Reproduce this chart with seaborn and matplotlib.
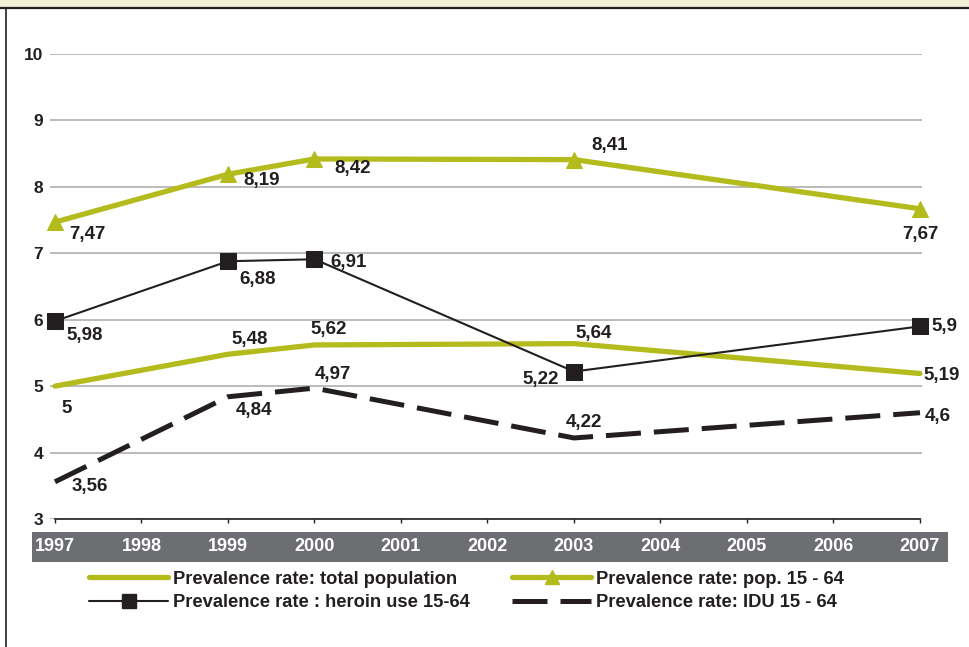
import numpy as np
import pandas as pd
import matplotlib
matplotlib.use("Agg")
import matplotlib.pyplot as plt
import seaborn as sns
from matplotlib.patches import Rectangle
from matplotlib.lines import Line2D

# dados
anos = [1997, 1999, 2000, 2003, 2007]
total_pop = [5.0, 5.48, 5.62, 5.64, 5.19]
pop_15_64 = [7.47, 8.19, 8.42, 8.41, 7.67]
heroina = [5.98, 6.88, 6.91, 5.22, 5.9]
idu = [3.56, 4.84, 4.97, 4.22, 4.6]
rotulos_total = ["5", "5,48", "5,62", "5,64", "5,19"]
rotulos_pop = ["7,47", "8,19", "8,42", "8,41", "7,67"]
rotulos_her = ["5,98", "6,88", "6,91", "5,22", "5,9"]
rotulos_idu = ["3,56", "4,84", "4,97", "4,22", "4,6"]
anos_eixo = list(range(1997, 2008))
y_ticks = [3, 4, 5, 6, 7, 8, 9, 10]

VERDE = "#b3bb1d"
PRETO = "#231f20"
CINZA = "#6d6e71"

sns.set_theme(style="white")
plt.rcParams["font.family"] = ["Liberation Sans", "DejaVu Sans"]
plt.rcParams["font.weight"] = "bold"

fig = plt.figure(figsize=(9.7, 6.47), dpi=100)
fig.patch.set_facecolor("white")
ax = fig.add_axes([50 / 970, 1 - 519 / 647, 872 / 970, 465 / 647])

df = pd.DataFrame({"Ano": anos, "total": total_pop, "pop": pop_15_64,
                   "her": heroina, "idu": idu})

sns.lineplot(data=df, x="Ano", y="total", ax=ax, color=VERDE, lw=3.8, zorder=3)
sns.lineplot(data=df, x="Ano", y="pop", ax=ax, color=VERDE, lw=3.8, marker="^",
             markersize=12, markeredgecolor=VERDE, zorder=4)
sns.lineplot(data=df, x="Ano", y="her", ax=ax, color=PRETO, lw=1.5, marker="s",
             markersize=11, markeredgecolor=PRETO, zorder=4)
sns.lineplot(data=df, x="Ano", y="idu", ax=ax, color=PRETO, lw=3.6, zorder=3)
ax.lines[-1].set_dashes([7, 2.6])
for ln in ax.lines:
    ln.set_clip_on(False)

# rotulos (deslocamento em pixels)
desl_total = [(12, -22), (22, 15), (14, 15), (20, 10), (22, -2)]
desl_pop = [(32, -12), (34, -6), (38, -10), (36, 14), (0, -26)]
desl_her = [(30, -14), (30, -18), (34, -3), (-33, -8), (24, 0)]
desl_idu = [(35, -5), (26, -14), (18, 14), (10, 15), (18, -4)]

def rotular(vals, textos, desl):
    for x, y, t, (dx, dy) in zip(anos, vals, textos, desl):
        ax.annotate(t, (x, y), xytext=(dx, dy), textcoords="offset pixels",
                    ha="center", va="center", fontsize=13.5, fontweight="bold",
                    color=PRETO, zorder=6, annotation_clip=False)

rotular(total_pop, rotulos_total, desl_total)
rotular(pop_15_64, rotulos_pop, desl_pop)
rotular(heroina, rotulos_her, desl_her)
rotular(idu, rotulos_idu, desl_idu)

ax.set_xlim(1997 - 5 / 86.5, 2007 + 2 / 86.5)
ax.set_ylim(3, 10)
ax.set_xticks(anos_eixo)
ax.set_xticklabels([str(a) for a in anos_eixo])
ax.set_yticks(y_ticks)
ax.set_xlabel("")
ax.set_ylabel("")
ax.grid(axis="y", color="#b5b5b5", lw=1.3)
ax.grid(axis="x", visible=False)
for s in ["top", "right", "left"]:
    ax.spines[s].set_visible(False)
ax.spines["bottom"].set_color(PRETO)
ax.spines["bottom"].set_linewidth(1.2)
ax.spines["bottom"].set_bounds(1997, 2007)
ax.tick_params(axis="x", direction="out", length=3, width=1, color=PRETO,
               bottom=True, pad=11, labelsize=13, labelcolor="white")
ax.tick_params(axis="y", length=0, pad=5, labelsize=12.5, labelcolor=PRETO)
for lb in ax.get_xticklabels() + ax.get_yticklabels():
    lb.set_fontweight("bold")

# faixa cinza dos anos
fig.patches.append(Rectangle((32 / 970, 1 - 562 / 647), 916 / 970, 30 / 647,
                             transform=fig.transFigure, facecolor=CINZA,
                             edgecolor="none", zorder=-1))
# moldura e faixa superior
fig.patches.append(Rectangle((0, 1 - 8 / 647), 1, 8 / 647, transform=fig.transFigure,
                             facecolor="#eef1d6", edgecolor="none", zorder=-2))
fig.lines.append(Line2D([0, 1], [1 - 8 / 647] * 2, transform=fig.transFigure,
                        color=PRETO, lw=1.6))
fig.lines.append(Line2D([6 / 970] * 2, [0, 1 - 8 / 647], transform=fig.transFigure,
                        color=PRETO, lw=1.2))

# legenda
handles = [
    Line2D([], [], color=VERDE, lw=3.8),
    Line2D([], [], color=PRETO, lw=1.5, marker="s", markersize=10),
    Line2D([], [], color=VERDE, lw=3.8, marker="^", markersize=10),
    Line2D([], [], color=PRETO, lw=3.6, dashes=[7, 2.6]),
]
labels = ["Prevalence rate: total population", "Prevalence rate : heroin use 15-64",
          "Prevalence rate: pop. 15 - 64", "Prevalence rate: IDU 15 - 64"]
leg = fig.legend(handles, labels, ncol=2, loc="upper left",
                 bbox_to_anchor=(73 / 970, 1 - 554 / 647), frameon=False,
                 handlelength=4.3, handletextpad=0.27, columnspacing=2.3,
                 labelspacing=0.38, prop={"size": 13.2, "weight": "bold"})
for t in leg.get_texts():
    t.set_color(PRETO)

fig.savefig("out.png", dpi=100, facecolor="white")
